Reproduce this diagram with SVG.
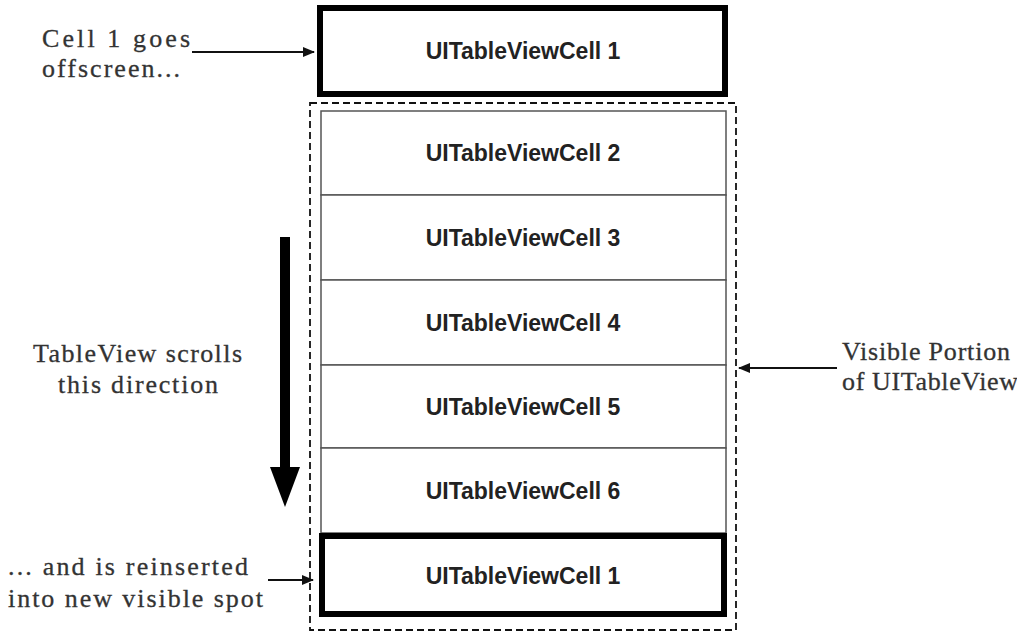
<svg xmlns="http://www.w3.org/2000/svg" width="1017" height="632" viewBox="0 0 1017 632">
<style>
.bg{fill:#fff}
.cell{fill:#fff;stroke:#555;stroke-width:1.5}
.thick{fill:#fff;stroke:#000;stroke-width:6}
.dash{fill:none;stroke:#111;stroke-width:1.8;stroke-dasharray:7 4}
.lbl{font-family:"Liberation Sans",Arial,sans-serif;font-weight:bold;font-size:23px;fill:#222;text-anchor:middle}
.note{font-family:"Liberation Serif","Times New Roman",serif;font-size:26px;fill:#333;stroke:#333;stroke-width:0.3}
.conn{stroke:#111;stroke-width:2;fill:none}
</style>
<defs>
<marker id="ah" markerWidth="12" markerHeight="10" refX="11" refY="5" orient="auto" markerUnits="userSpaceOnUse">
<path d="M0,0 L12,5 L0,10 Z" fill="#111"/>
</marker>
</defs>
<rect class="bg" x="0" y="0" width="1017" height="632"/>

<g id="visible-portion">
<rect class="dash" x="310" y="103" width="426" height="527"/>
</g>

<g id="cell1-top">
<rect class="thick" x="320" y="8" width="405" height="86"/>
<text class="lbl" x="523" y="59">UITableViewCell 1</text>
</g>
<g id="cell2">
<rect class="cell" x="321" y="111" width="405" height="84"/>
<text class="lbl" x="523" y="161">UITableViewCell 2</text>
</g>
<g id="cell3">
<rect class="cell" x="321" y="195" width="405" height="85"/>
<text class="lbl" x="523" y="246">UITableViewCell 3</text>
</g>
<g id="cell4">
<rect class="cell" x="321" y="280" width="405" height="85"/>
<text class="lbl" x="523" y="331">UITableViewCell 4</text>
</g>
<g id="cell5">
<rect class="cell" x="321" y="365" width="405" height="83"/>
<text class="lbl" x="523" y="415">UITableViewCell 5</text>
</g>
<g id="cell6">
<rect class="cell" x="321" y="448" width="405" height="85"/>
<text class="lbl" x="523" y="499">UITableViewCell 6</text>
</g>
<g id="cell1-bottom">
<rect class="thick" x="322" y="536" width="402" height="78"/>
<text class="lbl" x="523" y="584">UITableViewCell 1</text>
</g>

<g id="note-offscreen">
<text class="note" x="42" y="47" textLength="148" lengthAdjust="spacing">Cell 1 goes</text>
<text class="note" x="42" y="77" textLength="138" lengthAdjust="spacing">offscreen...</text>
</g>
<g id="note-scroll">
<text class="note" x="33" y="362" textLength="209" lengthAdjust="spacing">TableView scrolls</text>
<text class="note" x="58" y="393" textLength="160" lengthAdjust="spacing">this direction</text>
</g>
<g id="note-visible">
<text class="note" x="842" y="360" textLength="168" lengthAdjust="spacing">Visible Portion</text>
<text class="note" x="842" y="390" textLength="176" lengthAdjust="spacing">of UITableView</text>
</g>
<g id="note-reinserted">
<text class="note" x="8" y="575" textLength="240" lengthAdjust="spacing">... and is reinserted</text>
<text class="note" x="8" y="607" textLength="255" lengthAdjust="spacing">into new visible spot</text>
</g>

<g id="connectors">
<line class="conn" x1="192" y1="52" x2="314" y2="52" marker-end="url(#ah)"/>
<line class="conn" x1="837" y1="368" x2="739" y2="368" marker-end="url(#ah)"/>
<line class="conn" x1="268" y1="580" x2="313" y2="580" marker-end="url(#ah)"/>
<rect x="280" y="237" width="10" height="232" fill="#000"/>
<path d="M270,467 L300,467 L285,507 Z" fill="#000"/>
</g>
</svg>
